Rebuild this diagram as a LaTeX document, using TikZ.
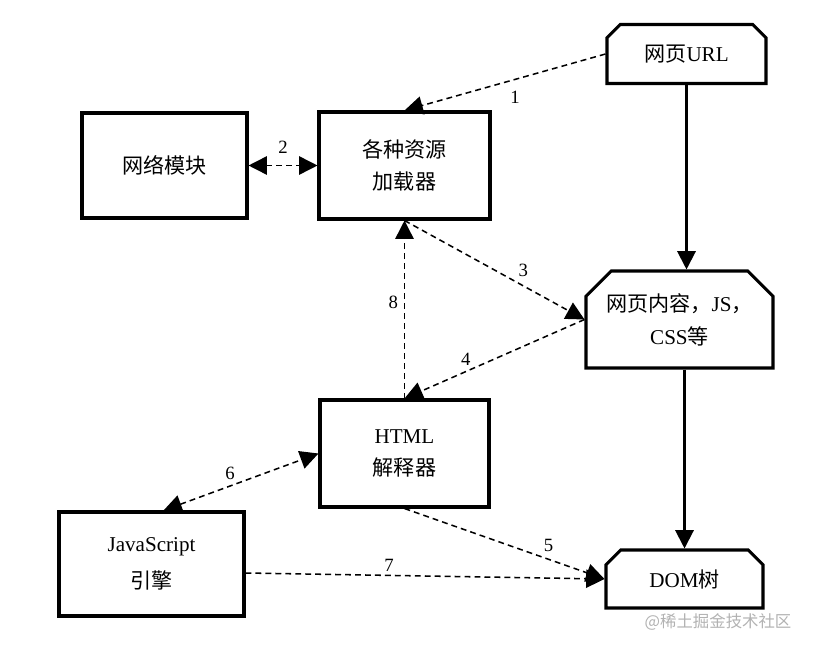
\documentclass[tikz,border=0pt]{standalone}
\usepackage{fontspec}
\setmainfont{Liberation Serif}
\newfontfamily\cjk{Noto Sans CJK SC}
\usetikzlibrary{arrows.meta, positioning, shapes.misc}

\begin{document}
\begin{tikzpicture}[
  x=0.03cm, y=-0.03cm,
  font=\fontsize{18}{28}\selectfont,
  every node/.style={align=center},
  >={Triangle[length=0.55cm, width=0.55cm]},
  block/.style args={#1, #2}{draw, line width=2.6pt, minimum width=#1, minimum height=#2, inner sep=0pt},
  tabbox/.style={chamfered rectangle, chamfered rectangle corners={north west, north east},
    chamfered rectangle xsep=#1, chamfered rectangle ysep=#1},
  link/.style={line width=1.3pt, dash pattern=on 5pt off 3.5pt},
  feed/.style={line width=1.8pt, ->},
  num/.style={font=\fontsize{16}{18}\selectfont, inner sep=1pt}
  ]

\useasboundingbox (0,0) rectangle (814,652);

% Boxes
\node[block={4.95cm, 3.15cm}] (net) at (164.5,165.5) {{\cjk 网络模块}};
\node[block={5.13cm, 3.21cm}] (loader) at (404.5,165.5) {{\cjk 各种资源}\\{\cjk 加载器}};
\node[block={5.07cm, 3.21cm}] (html) at (404.5,453.5) {HTML\\{\cjk 解释器}};
\node[block={5.55cm, 3.12cm}] (js) at (151.5,564) {JavaScript\\[4pt]{\cjk 引擎}};

% Chamfered boxes on the right
\node[block={4.77cm, 1.77cm}, tabbox=0.2cm] (url) at (686.5,54) {{\cjk 网页}URL};
\node[block={5.61cm, 2.91cm}, tabbox=0.38cm] (content) at (679.5,319.5) {{\cjk 网页内容，}JS{\cjk ，}\\CSS{\cjk 等}};
\node[block={4.71cm, 1.74cm}, tabbox=0.22cm] (dom) at (684.5,579) {DOM{\cjk 树}};

% Dashed links
\draw[link, ->] (url.west) -- node[num, pos=0.45, below=8pt] {1} (loader.north);
\draw[link, <->] (net.east) -- node[num, above=9pt] {2} (loader.west);
\draw[link, ->] (loader.south) -- node[num, pos=0.66, above=6pt] {3} (content.west);
\draw[link, ->] (content.west) -- node[num, pos=0.66, above=4pt] {4} (html.north);
\draw[link, ->] (html.north) -- node[num, pos=0.54, left=4pt] {8} (loader.south);
\draw[link, <->] ([xshift=0.36cm]js.north) -- node[num, pos=0.43, above=4pt] {6} (html.west);
\draw[link, ->] (html.south) -- node[num, pos=0.72, above=5pt] {5} (dom.west);
\draw[link, ->] ([yshift=-0.27cm]js.east) -- node[num, pos=0.4, above=2pt] {7} (dom.west);

% Solid flow
\draw[feed] (url.south) -- (url.south |- content.north);
\draw[feed] (dom.north |- content.south) -- (dom.north);

% Watermark
\node[font=\fontsize{14}{16}\selectfont\cjk, text=gray!60] (mark) at (718,622) {@稀土掘金技术社区};
\end{tikzpicture}
\end{document}
